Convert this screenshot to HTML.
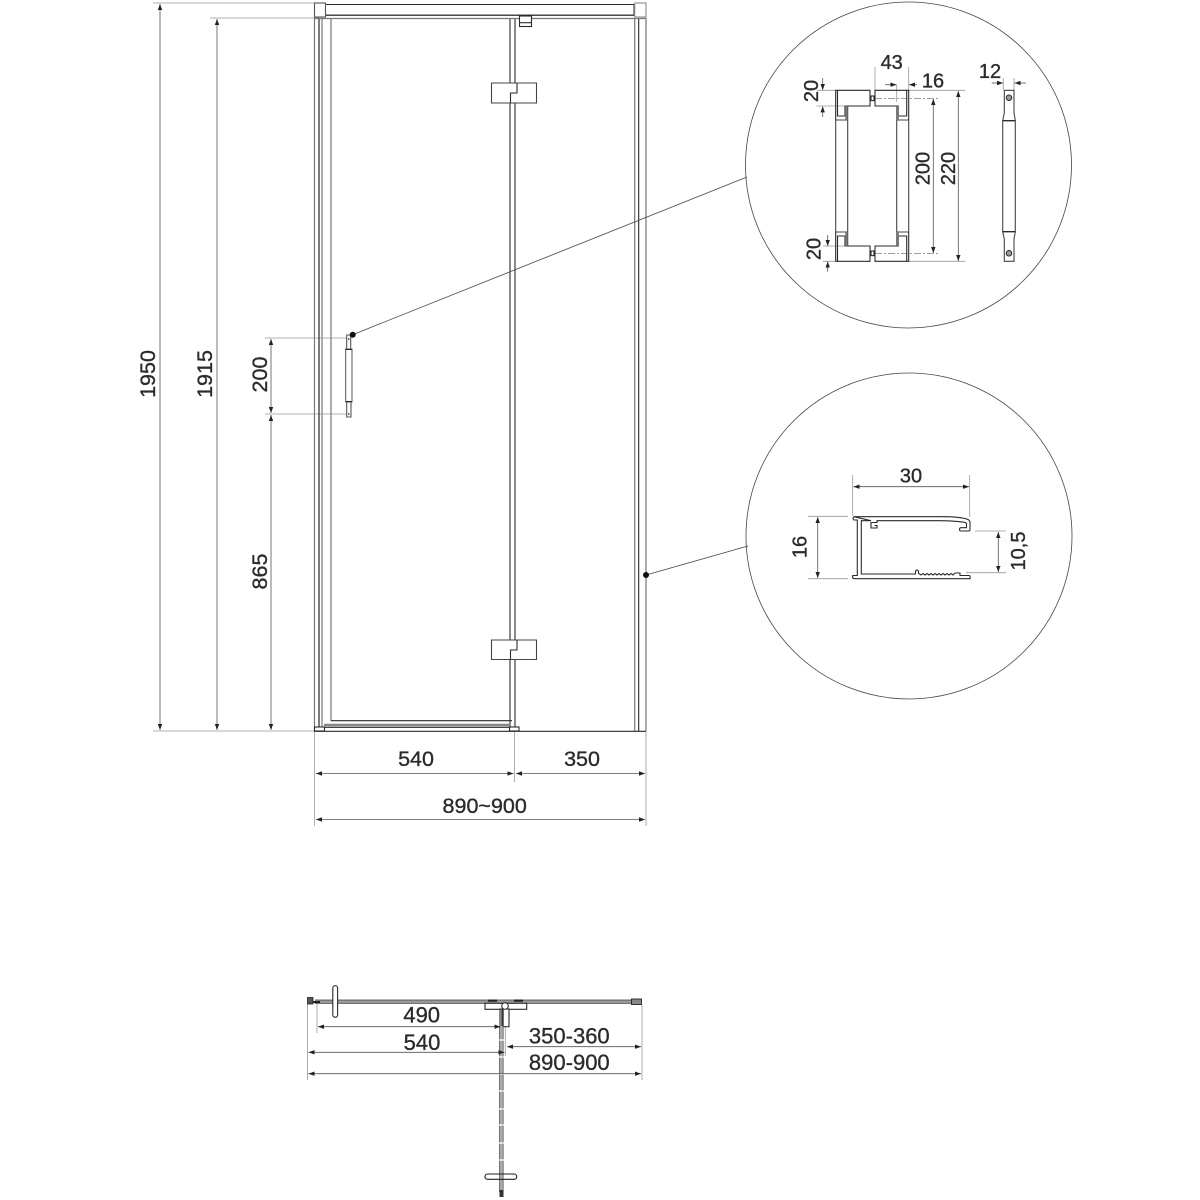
<!DOCTYPE html>
<html><head><meta charset="utf-8"><style>
html,body{margin:0;padding:0;background:#fff}
svg{display:block}
text{font-family:"Liberation Sans",sans-serif;fill:#2b2b2b;stroke:#2b2b2b;stroke-width:.35;text-anchor:middle}
.d{stroke:#555;stroke-width:.8;fill:none;marker-start:url(#a);marker-end:url(#a)}
.o{stroke:#555;stroke-width:.8;fill:none;marker-end:url(#a)}
.e{stroke:#999;stroke-width:.8;fill:none}
.k{stroke:#2a2a2a;stroke-width:1.1;fill:none}
.g{stroke:#777;stroke-width:1.2;fill:none}
.w{stroke:#2a2a2a;stroke-width:1.1;fill:#fff}
.c{stroke:#777;stroke-width:.8;fill:#fff}
</style></head><body>
<svg width="1200" height="1200" viewBox="0 0 1200 1200" xmlns="http://www.w3.org/2000/svg">
<defs><marker id="a" markerUnits="userSpaceOnUse" markerWidth="7" markerHeight="5" refX="6" refY="2.5" orient="auto-start-reverse"><path d="M0,0.3L6,2.5L0,4.7Z" fill="#222"/></marker></defs>

<!-- extension lines -->
<path class="e" d="M153,3H314M153,731H314M210,18H320M265,338H348M265,414H348M314.5,731V826M514.5,731V782M646,731V826"/>

<!-- door frame -->
<path class="g" d="M314.5,18V731M319,18V727M322,18V727M331,18V721M646,18V731M634.7,18V731"/>
<path class="k" d="M319,18V727M638.7,18V731M510,18V83M515,18V83M510,103V640M515,103V640M510,659V727M515,659V727"/>
<rect x="325" y="4.5" width="309" height="10.7" fill="#fff" stroke="#2a2a2a" stroke-width="1"/>
<path class="g" d="M314,18.5H646"/>
<path class="k" d="M325,15.2H646"/>
<rect x="314.5" y="3" width="11" height="14" class="w" style="stroke:#555"/>
<rect x="634.7" y="3" width="11.3" height="14" class="w" style="stroke:#888"/>
<rect x="519.5" y="16" width="12" height="10.5" class="w"/><path class="k" d="M519.5,22.7H531.5"/>
<!-- hinges -->
<path class="w" style="stroke:#444" d="M491.5,83H536.5V103H491.5Z"/>
<path class="k" d="M517,83V93H510.5V103"/>
<path class="w" style="stroke:#444" d="M491.5,640H536.5V659.5H491.5Z"/>
<path class="k" d="M517,640V650H510.5V659.5"/>
<!-- bottom -->
<path class="k" d="M331,720.7H512M324,727.3H510"/>
<path stroke="#888" stroke-width="2.4" fill="none" d="M324,725H510"/>
<rect x="314.5" y="727" width="10" height="4" class="w"/>
<rect x="509.5" y="727" width="9.5" height="4" class="w"/>
<path class="k" d="M314,731.3H646"/>

<!-- handle -->
<path class="w" style="stroke:#555" d="M346.7,335H350.7V349H346.7Z"/>
<path class="w" style="stroke:#555" d="M346.7,402H351V417H346.7Z"/>
<rect x="345.7" y="349" width="6.3" height="53" class="c" style="stroke:#555;stroke-width:1"/>
<rect x="348.2" y="338" width="1.2" height="2" fill="#555"/><rect x="348.2" y="413" width="1.2" height="2" fill="#555"/>
<path class="k" d="M345.5,349.5H352M345.5,401.5H352"/>

<!-- leaders -->
<path stroke="#444" stroke-width=".8" fill="none" d="M352.7,334.7L747,177M646,575L748,546"/>
<circle cx="352.7" cy="334.7" r="3" fill="#111"/><circle cx="646" cy="575" r="3" fill="#111"/>
<circle cx="908.5" cy="165" r="163" fill="none" stroke="#444" stroke-width=".8"/>
<circle cx="909" cy="536" r="163" fill="none" stroke="#444" stroke-width=".8"/>

<!-- main dims -->
<path class="d" d="M160,4V730"/><path class="d" d="M217,19V730"/>
<path class="d" d="M271,339V413"/><path class="d" d="M271,415V730"/>
<path class="d" d="M316,773.5H513.5"/><path class="d" d="M516,773.5H645"/>
<path class="d" d="M316,819.5H645"/>
<text font-size="21.5" transform="translate(155,374) rotate(-90)">1950</text>
<text font-size="21.5" transform="translate(212,374) rotate(-90)">1915</text>
<text font-size="21.5" transform="translate(267,374.5) rotate(-90)">200</text>
<text font-size="21.5" transform="translate(267,571.5) rotate(-90)">865</text>
<text font-size="21.5" x="416" y="766">540</text>
<text font-size="21.5" x="582" y="766">350</text>
<text font-size="21.5" x="484.7" y="813">890~900</text>

<!-- detail 1: handle front -->
<path class="e" d="M875,67V90M908.7,67V90M896.7,85V102M816.7,90.3H836M816.7,106H870M823,246H870M823,261.3H836M908,90.3H965M908,261.3H965M1003.3,78V90M1014,78V90"/>
<path class="k" style="stroke:#444" d="M835.7,120V232M847.7,106V246M896.7,106V246M908.7,120V232M835.7,120H847.7M896.7,120H908.7M835.7,232H847.7M896.7,232H908.7"/>
<path class="k" d="M835.7,120V90.3H870V106H845V116H837.5V90.3"/>
<path class="k" d="M908.7,120V90.3H875V106H898.3V116H906.7V90.3"/>
<path class="k" d="M835.7,232V261.3H870V246H845V236H837.5V261.3"/>
<path class="k" d="M908.7,232V261.3H875V246H898.3V236H906.7V261.3"/>
<path stroke="#777" stroke-width="2.4" fill="none" d="M846.4,106V120M846.4,232V246M897.7,106V120M897.7,232V246"/>
<rect x="871" y="96" width="3" height="4.6" class="w"/><rect x="871" y="251" width="3" height="4.6" class="w"/>
<path stroke="#666" stroke-width=".7" stroke-dasharray="7 2 2 2" fill="none" d="M875,98.3H938M875,253.3H938"/>
<path class="o" d="M885,84.7H896.5"/><path class="o" d="M917,84.7H909"/>
<path class="o" d="M822.7,78V90"/><path class="o" d="M822.7,117V106.4"/>
<path class="o" d="M827.7,235V246"/><path class="o" d="M827.7,271.7V261.6"/>
<path class="d" d="M933.3,99V253"/><path class="d" d="M958.3,91V261"/>
<path class="o" d="M991.7,83H1003"/><path class="o" d="M1026,83H1014.5"/>
<text font-size="20" x="891.7" y="69">43</text>
<text font-size="20" x="933" y="87.7">16</text>
<text font-size="20" x="990" y="78">12</text>
<text font-size="20" transform="translate(818,91) rotate(-90)">20</text>
<text font-size="20" transform="translate(820.5,249) rotate(-90)">20</text>
<text font-size="20" transform="translate(929.5,168.5) rotate(-90)">200</text>
<text font-size="20" transform="translate(955,168.5) rotate(-90)">220</text>
<!-- handle side -->
<path class="w" style="stroke:#444;stroke-width:1.1" d="M1004.3,90.3H1014V113L1015.3,120.7V231.7L1014,239V261.3H1004.3V239L1002.7,231.7V120.7L1004.3,113Z"/>
<path class="k" style="stroke-width:1.4" d="M1002.7,120.7H1015.3M1002.7,231.7H1015.3"/>
<circle cx="1009" cy="97.7" r="2.8" fill="#999" stroke="#222" stroke-width=".9"/>
<circle cx="1009" cy="253.3" r="2.8" fill="#999" stroke="#222" stroke-width=".9"/>

<!-- detail 2: profile -->
<path class="e" d="M852.7,475V516M969.7,475V517M808,516.3H848M808,578.7H848M975,531H1006M966,572.7H1006"/>
<path class="w" style="stroke-width:1.1" d="M854,516.7H943C955,516.7 964,518 968,519.5Q970,520.5 970,522.5V529.5Q970,531 968.5,531H961Q959.5,531 959.5,529.5Q959.5,527.7 961,527.7H966.5V524Q966.5,522.7 964,522.2C955,521 948,520.7 940,520.7H877V522.5H871V528H877V525.5H874.5M871,520.7H861.3V574H915.5V571Q917,569 918.5,571V573.5L921,575L923,573.5L925,575L927,573.5L929,575L931,573.5L933,575L935,573.5L937,575L939,573.5L941,575L943,573.5L945,575L947,573.5L949,575L951,573.5L953,575L955,573H960V575.5H969.5Q970.5,576.5 970,578.7H854Q852,578 852.8,575.5H857.3V520H854Q852,519 854,516.7Z"/>
<path class="d" d="M853.5,486.7H969"/><path class="d" d="M817.7,517V578"/><path class="d" d="M998.3,532V572"/>
<text font-size="20" x="911" y="482.7">30</text>
<text font-size="20" transform="translate(806.5,547) rotate(-90)">16</text>
<text font-size="20" transform="translate(1025,551) rotate(-90)">10,5</text>

<!-- plan view -->
<path class="e" d="M307.5,1004V1080M642,1005V1080M317,1003V1033M505.3,1026V1056"/>
<path stroke="#999" stroke-width="3.6" fill="none" d="M315,1001.7H632"/>
<path stroke="#444" stroke-width=".7" fill="none" d="M315,1000H632M315,1003.4H632"/>
<path stroke="#222" stroke-width="2" fill="none" d="M308,1000.5H313M313,1002H320"/>
<rect x="307.5" y="997.5" width="5.5" height="6.5" fill="#555" stroke="#222" stroke-width=".8"/>
<rect x="631.5" y="999" width="10" height="5.5" fill="#888" stroke="#222" stroke-width=".9"/>
<rect x="332.8" y="985.7" width="4.8" height="31.5" rx="2.2" class="w"/>
<rect x="485" y="1003.3" width="41.7" height="6" class="w"/>
<path stroke="#222" stroke-width="2.2" fill="none" d="M488,1000.6H497M514,1000.6H523"/>
<rect x="500" y="1009" width="9" height="17.7" class="w"/>
<rect x="501.3" y="1009" width="2.4" height="17.7" fill="#333"/>
<circle cx="505" cy="1006" r="3.3" fill="#fff" stroke="#222" stroke-width="1"/>
<path stroke="#aaa" stroke-width="3.6" fill="none" d="M501.3,1026V1192"/>
<path stroke="#555" stroke-width=".7" fill="none" d="M499.4,1026V1192M503.2,1026V1192"/>
<path stroke="#fff" stroke-width="1.3" fill="none" d="M498,1040H505M498,1057H505M498,1074H505M498,1091H505M498,1109H505M498,1125H505M498,1143H505M498,1160H505"/>
<rect x="485" y="1174" width="31.7" height="5.3" rx="2.5" fill="none" stroke="#222" stroke-width="1.1"/>
<rect x="499.5" y="1190" width="4" height="7" fill="#333"/>
<path class="d" d="M318,1026.7H500.5"/><path class="d" d="M308.5,1052.3H504.5"/>
<path class="d" d="M507,1046.7H641"/><path class="d" d="M308.5,1073.7H641"/>
<text font-size="22" x="421.7" y="1022.7">490</text>
<text font-size="22" x="422" y="1050">540</text>
<text font-size="22" x="569.3" y="1043.3">350-360</text>
<text font-size="22" x="569.3" y="1070">890-900</text>
</svg>
</body></html>
